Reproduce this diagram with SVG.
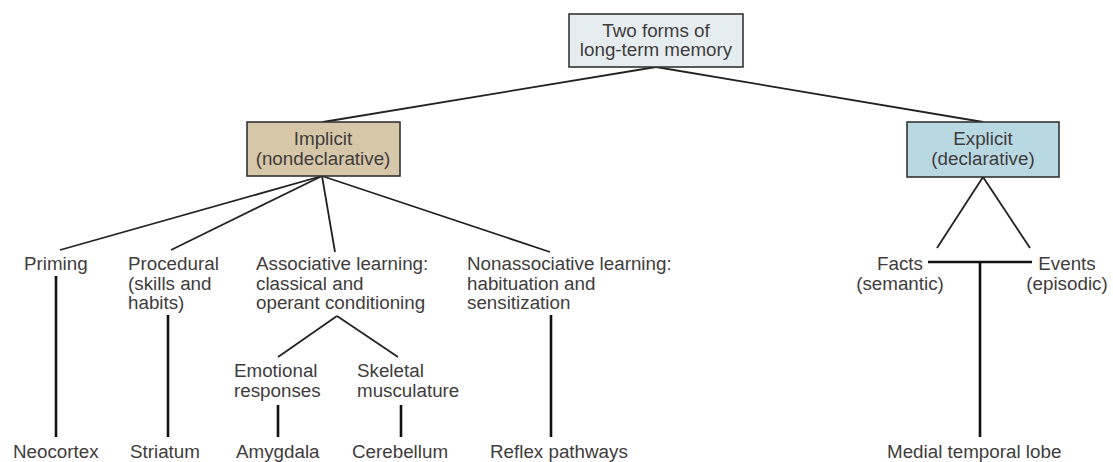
<svg xmlns="http://www.w3.org/2000/svg" width="1113" height="462" viewBox="0 0 1113 462">
<style>
text{font-family:"Liberation Sans",Arial,sans-serif;font-size:18.8px;fill:#403c3c}
.box{stroke:#333;stroke-width:1.6}
.c{text-anchor:middle}
.ln{stroke:#222;stroke-width:1.8;fill:none}
.vl{stroke:#111;stroke-width:2.6;fill:none}
</style>
<rect width="1113" height="462" fill="#fff"/>
<g id="connectors">
<line class="ln" x1="656" y1="67" x2="323" y2="122"/>
<line class="ln" x1="656" y1="67" x2="983" y2="122"/>
<line class="ln" x1="322" y1="176" x2="60" y2="250"/>
<line class="ln" x1="322" y1="176" x2="171" y2="250"/>
<line class="ln" x1="322" y1="176" x2="335" y2="252"/>
<line class="ln" x1="322" y1="176" x2="550" y2="252"/>
<line class="ln" x1="983" y1="177" x2="937" y2="248"/>
<line class="ln" x1="983" y1="177" x2="1030" y2="248"/>
<line class="ln" x1="337" y1="316" x2="278" y2="357"/>
<line class="ln" x1="337" y1="316" x2="398" y2="357"/>
<line class="vl" x1="56" y1="276" x2="56" y2="437"/>
<line class="vl" x1="168" y1="315" x2="168" y2="437"/>
<line class="vl" x1="278" y1="405" x2="278" y2="437"/>
<line class="vl" x1="401" y1="405" x2="401" y2="437"/>
<line class="vl" x1="551" y1="315" x2="551" y2="437"/>
<line class="vl" x1="928" y1="262" x2="1032" y2="262"/>
<line class="vl" x1="980" y1="262" x2="980" y2="437"/>
</g>
<g id="root">
<rect class="box" x="569" y="14" width="174" height="53" fill="#e6edf1"/>
<text class="c" x="656" y="37">Two forms of</text>
<text class="c" x="656" y="56">long-term memory</text>
</g>
<g id="implicit">
<rect class="box" x="247" y="122" width="153" height="54" fill="#d6c7a8"/>
<text class="c" x="323" y="145">Implicit</text>
<text class="c" x="323" y="165">(nondeclarative)</text>
</g>
<g id="explicit">
<rect class="box" x="907" y="122" width="152" height="55" fill="#b9d9e2"/>
<text class="c" x="983" y="145">Explicit</text>
<text class="c" x="983" y="165">(declarative)</text>
</g>
<g id="priming"><text x="24" y="270">Priming</text></g>
<g id="procedural"><text x="128" y="270">Procedural</text><text x="128" y="290">(skills and</text><text x="128" y="309">habits)</text></g>
<g id="associative"><text x="256" y="270">Associative learning:</text><text x="256" y="290">classical and</text><text x="256" y="309">operant conditioning</text></g>
<g id="nonassociative"><text x="467" y="270">Nonassociative learning:</text><text x="467" y="290">habituation and</text><text x="467" y="309">sensitization</text></g>
<g id="emotional"><text x="234" y="377">Emotional</text><text x="234" y="397">responses</text></g>
<g id="skeletal"><text x="357" y="377">Skeletal</text><text x="357" y="397">musculature</text></g>
<g id="facts"><text class="c" x="900" y="270">Facts</text><text class="c" x="900" y="290">(semantic)</text></g>
<g id="events"><text class="c" x="1067" y="270">Events</text><text class="c" x="1067" y="290">(episodic)</text></g>
<g id="neocortex"><text x="13" y="458">Neocortex</text></g>
<g id="striatum"><text x="130" y="458">Striatum</text></g>
<g id="amygdala"><text x="236" y="458">Amygdala</text></g>
<g id="cerebellum"><text x="352" y="458">Cerebellum</text></g>
<g id="reflex"><text x="490" y="458">Reflex pathways</text></g>
<g id="mtl"><text x="887" y="458">Medial temporal lobe</text></g>
</svg>
